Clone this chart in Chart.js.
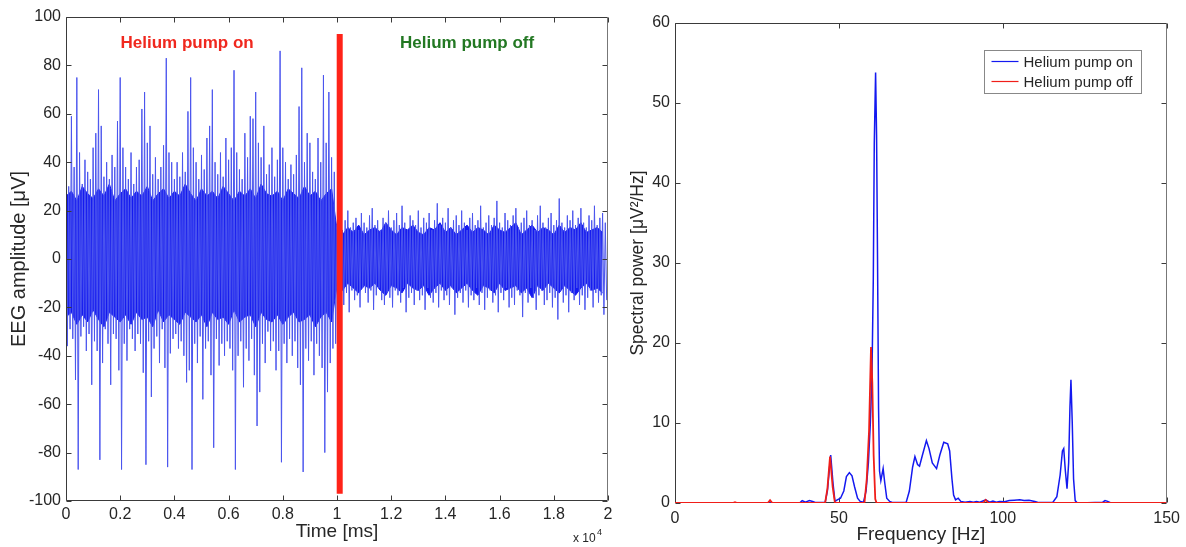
<!DOCTYPE html>
<html>
<head>
<meta charset="utf-8">
<script src="https://cdn.jsdelivr.net/npm/chart.js@4.4.0/dist/chart.umd.min.js"></script>
<style>
  html, body { margin: 0; padding: 0; background: #fff; }
  #left { position: absolute; left: 0; top: 0; width: 620px; height: 547px; }
  #right { position: absolute; left: 620px; top: 0; width: 566px; height: 547px; }
</style>
</head>
<body>
<div id="left"><canvas id="eegChart"></canvas></div>
<div id="right"><canvas id="psdChart"></canvas></div>
<script>
var binMs = 100;
var pumpOnHigh = [
  40, 30, 59, 38, 75, 44, 31, 41, 36, 33,
  46, 52, 70, 55, 34, 40, 33, 43, 38, 57,
  75, 46, 38, 33, 44, 31, 38, 41, 62, 69,
  48, 55, 35, 42, 33, 38, 47, 83, 44, 40,
  33, 40, 34, 44, 36, 61, 75, 46, 40, 33,
  43, 37, 50, 55, 70, 40, 35, 44, 34, 50,
  41, 46, 78, 44, 37, 33, 52, 42, 59, 58,
  69, 48, 42, 55, 35, 39, 46, 34, 41, 86,
  46, 40, 33, 39, 35, 43, 63, 79, 40, 52,
  48, 36, 33, 50, 40, 76, 48, 69, 42, 36
];
var pumpOnLow = [
  -36, -29, -33, -50, -87, -32, -28, -38, -31, -52,
  -34, -38, -83, -43, -29, -35, -52, -31, -33, -46,
  -87, -35, -42, -29, -33, -38, -31, -35, -47, -85,
  -34, -57, -37, -32, -43, -29, -45, -86, -39, -33,
  -31, -37, -34, -40, -51, -46, -87, -35, -43, -32,
  -58, -37, -34, -48, -78, -33, -44, -35, -40, -34,
  -37, -46, -87, -40, -34, -53, -37, -42, -33, -48,
  -69, -55, -35, -43, -30, -38, -34, -46, -38, -84,
  -35, -43, -33, -40, -34, -45, -52, -88, -37, -42,
  -34, -48, -35, -40, -45, -80, -55, -43, -37, -35
];
var pumpOffHigh = [
  14, 18, 12, 16, 20, 13, 15, 17, 12, 19,
  15, 13, 18, 21, 14, 16, 12, 17, 15, 20,
  13, 16, 19, 14, 22, 15, 12, 18, 16, 14,
  20, 13, 17, 15, 19, 12, 16, 23, 14, 17,
  15, 21, 13, 16, 18, 14, 20, 15, 12, 17,
  19, 14, 16, 22, 13, 15, 18, 14, 17, 24,
  15, 13, 19, 16, 14, 18, 21, 13, 15, 17,
  20, 14, 16, 12, 18, 22, 15, 13, 17, 19,
  14, 16, 25, 15, 13, 18, 16, 20, 14, 17,
  21, 15, 13, 18, 16, 22, 14, 17, 19, 15
];
var pumpOffLow = [
  -16, -12, -19, -14, -22, -13, -17, -15, -20, -12,
  -14, -18, -13, -21, -15, -12, -17, -19, -14, -16,
  -20, -13, -15, -18, -12, -22, -16, -14, -19, -13,
  -17, -15, -21, -12, -16, -18, -14, -20, -13, -17,
  -15, -19, -12, -23, -16, -14, -18, -13, -20, -15,
  -17, -12, -19, -14, -21, -16, -13, -18, -15, -22,
  -14, -17, -12, -20, -16, -19, -13, -15, -24, -14,
  -18, -12, -16, -21, -15, -13, -19, -17, -14, -20,
  -16, -25, -13, -18, -15, -22, -14, -17, -12, -19,
  -15, -21, -16, -13, -20, -14, -18, -15, -23, -17
];
var coreMs = 200;
var coreOnTop = [
  26, 28, 24, 30, 27, 25, 29, 26, 31, 24,
  27, 29, 25, 28, 26, 30, 24, 27, 29, 25,
  28, 26, 31, 27, 24, 29, 26, 28, 25, 30,
  27, 24, 28, 26, 29, 25, 31, 27, 26, 28,
  24, 29, 27, 25, 30, 26, 28, 24, 27, 29
];
var coreOnBottom = [
  -24, -22, -27, -23, -26, -21, -25, -28, -22, -24,
  -26, -23, -27, -22, -25, -24, -28, -21, -26, -23,
  -25, -27, -22, -24, -26, -23, -28, -22, -25, -24,
  -27, -21, -26, -24, -23, -28, -22, -25, -26, -23,
  -27, -24, -22, -26, -25, -23, -28, -24, -22, -26
];
var coreOffTop = [
  12, 10, 13, 11, 14, 10, 12, 13, 11, 15,
  12, 10, 13, 12, 14, 11, 10, 13, 12, 15,
  11, 13, 10, 12, 14, 11, 13, 12, 10, 14,
  12, 11, 13, 15, 10, 12, 14, 11, 13, 12,
  10, 14, 11, 13, 12, 15, 11, 12, 13, 11
];
var coreOffBottom = [
  -11, -13, -10, -12, -14, -11, -12, -10, -13, -15,
  -11, -12, -14, -10, -12, -13, -11, -15, -12, -10,
  -13, -11, -14, -12, -10, -13, -15, -11, -12, -14,
  -10, -13, -12, -11, -14, -12, -16, -11, -13, -10,
  -12, -14, -11, -13, -15, -12, -10, -13, -12, -14
];
var pumpOffStart = 10000;
var switchTime = 10100;
var switchSpan = [93, -97];
var phaseLabels = ["Helium pump on", "Helium pump off"];

// spectra
var seriesNames = ["Helium pump on", "Helium pump off"];
var onFreq = [0, 38, 38.8, 39.8, 41, 42, 43, 45.8, 46.5, 47.5,
  48.2, 48.8, 49.5, 50.5, 51.5, 52.3, 53.2, 54.0, 54.8, 55.7,
  56.5, 57.5, 58.3, 59.0, 59.6, 60.1, 60.5, 60.8, 61.2, 61.5,
  61.8, 62.1, 62.4, 62.8, 63.5, 64.0, 64.6, 65.5, 66.5, 70.5,
  71.5, 72.5, 73.2, 74.0, 74.6, 75.5, 76.7, 77.5, 78.5, 79.8,
  80.8, 82.0, 83.2, 83.8, 84.5, 85.0, 85.6, 86.4, 87.2, 88.5,
  90, 91, 92, 93, 94.8, 96, 97, 98, 99, 100.5,
  102, 103.5, 105.2, 106.5, 108, 109.8, 111, 115.3, 116.5, 117.5,
  118.2, 118.6, 119.1, 119.6, 120.1, 120.5, 120.8, 121.2, 121.6, 122.1,
  122.6, 123.5, 130.5, 131.2, 132, 133, 150];
var onPower = [0, 0, 0.3, 0.1, 0.3, 0.2, 0.05, 0.05, 1.5, 6.0,
  2.5, 0.2, 0.4, 0.6, 1.5, 3.3, 3.8, 3.4, 2.0, 0.6,
  0.2, 0.1, 1.5, 5, 10, 16, 28, 45, 53.8, 46,
  30, 12, 4, 2.8, 4.3, 2.5, 0.6, 0.2, 0.05, 0.05,
  1.5, 4.5, 5.8, 4.8, 4.6, 6.0, 7.8, 6.8, 5.0, 4.3,
  6.0, 7.6, 7.4, 6.5, 3.0, 1.0, 0.4, 0.6, 0.2, 0.1,
  0.2, 0.1, 0.2, 0.1, 0.4, 0.1, 0.25, 0.1, 0.2, 0.15,
  0.3, 0.35, 0.4, 0.3, 0.35, 0.2, 0.05, 0.1, 0.8, 3.5,
  6.5, 6.8, 4, 1.8, 5, 12, 15.4, 10, 3, 0.3,
  0.05, 0, 0.1, 0.3, 0.2, 0, 0];
var offFreq = [0, 17.6, 18.3, 19, 28.3, 29, 29.7, 45.8, 46.5, 47.3,
  48.1, 48.8, 57.8, 58.5, 59.2, 59.8, 60.2, 60.6, 61.1, 61.5,
  94, 94.8, 95.6, 150];
var offPower = [0, 0, 0.1, 0, 0, 0.35, 0, 0, 1.8, 5.8,
  2.0, 0, 0, 3, 9, 19.5, 15, 6, 0.5, 0,
  0, 0.4, 0, 0];

var FONT = "'Liberation Sans', Arial, sans-serif";
Chart.defaults.font.family = FONT;
Chart.defaults.color = "#262626";

var blue = "rgb(20,25,240)";
var red = "rgb(240,30,25)";

// matlab style frame with inward ticks
function framePlugin(onTop) {
  var draw = function (chart) {
    var ctx = chart.ctx, a = chart.chartArea;
    var x = chart.scales.x, y = chart.scales.y;
    var L = Math.round(a.left) + 0.5, R = Math.round(a.right) - 0.5;
    var T = Math.round(a.top) + 0.5, B = Math.round(a.bottom) - 0.5;
    ctx.save();
    ctx.lineWidth = 1;
    ctx.strokeStyle = "#3a3a3a";
    ctx.beginPath();
    x.ticks.forEach(function (t) {
      var px = Math.round(x.getPixelForValue(t.value)) + 0.5;
      ctx.moveTo(px, B); ctx.lineTo(px, B - 5);
      ctx.moveTo(px, T); ctx.lineTo(px, T + 5);
    });
    y.ticks.forEach(function (t) {
      var py = Math.round(y.getPixelForValue(t.value)) + 0.5;
      ctx.moveTo(L, py); ctx.lineTo(L + 5, py);
      ctx.moveTo(R, py); ctx.lineTo(R - 5, py);
    });
    ctx.stroke();
    ctx.beginPath();
    ctx.moveTo(R, T); ctx.lineTo(L, T); ctx.lineTo(L, B); ctx.lineTo(R, B);
    ctx.stroke();
    ctx.strokeStyle = "#777";
    ctx.beginPath();
    ctx.moveTo(R, T); ctx.lineTo(R, B);
    ctx.stroke();
    ctx.restore();
  };
  return onTop ? { id: "frame", afterDatasetsDraw: draw } : { id: "frame", beforeDatasetsDraw: draw };
}

// LEFT: EEG trace
var eegPoints = [];
pumpOnHigh.forEach(function (v, i) {
  eegPoints.push({ x: i * binMs, y: v }, { x: i * binMs + binMs / 2, y: pumpOnLow[i] });
});
pumpOffHigh.forEach(function (v, i) {
  var t = pumpOffStart + i * binMs;
  eegPoints.push({ x: t, y: v }, { x: t + binMs / 2, y: pumpOffLow[i] });
});
var coreTopPoints = [], coreBottomPoints = [];
coreOnTop.forEach(function (v, i) {
  coreTopPoints.push({ x: i * coreMs, y: v });
  coreBottomPoints.push({ x: i * coreMs, y: coreOnBottom[i] });
});
coreOffTop.forEach(function (v, i) {
  coreTopPoints.push({ x: pumpOffStart + i * coreMs, y: v });
  coreBottomPoints.push({ x: pumpOffStart + i * coreMs, y: coreOffBottom[i] });
});

var eegNotes = {
  id: "eegNotes",
  afterDraw: function (chart) {
    var ctx = chart.ctx, x = chart.scales.x, y = chart.scales.y, a = chart.chartArea;
    ctx.save();
    ctx.font = "bold 17px " + FONT;
    ctx.textAlign = "center";
    ctx.textBaseline = "middle";
    ctx.fillStyle = "rgb(240,40,30)";
    ctx.fillText(phaseLabels[0], x.getPixelForValue(4470), y.getPixelForValue(89));
    ctx.fillStyle = "rgb(35,120,35)";
    ctx.fillText(phaseLabels[1], x.getPixelForValue(14800), y.getPixelForValue(89));
    // axis multiplier
    ctx.fillStyle = "#262626";
    ctx.textAlign = "left";
    ctx.textBaseline = "alphabetic";
    ctx.font = "12px " + FONT;
    ctx.fillText("x 10", a.right - 35, 542);
    ctx.font = "9px " + FONT;
    ctx.fillText("4", a.right - 11, 535);
    ctx.restore();
  }
};

new Chart("eegChart", {
  type: "line",
  data: {
    datasets: [{
      label: "switch",
      data: [{ x: switchTime, y: switchSpan[0] }, { x: switchTime, y: switchSpan[1] }],
      borderColor: "rgb(255,35,25)",
      borderWidth: 6,
      borderCapStyle: "butt",
      pointRadius: 0,
      order: 0
    }, {
      label: "EEG",
      data: eegPoints,
      borderColor: "rgb(75,85,238)",
      borderWidth: 1,
      pointRadius: 0,
      tension: 0,
      order: 1
    }, {
      label: "core top",
      data: coreTopPoints,
      borderColor: blue,
      borderWidth: 1,
      backgroundColor: blue,
      fill: "+1",
      pointRadius: 0,
      tension: 0,
      order: 2
    }, {
      label: "core bottom",
      data: coreBottomPoints,
      borderColor: blue,
      borderWidth: 1,
      pointRadius: 0,
      tension: 0,
      order: 3
    }]
  },
  options: {
    responsive: true,
    maintainAspectRatio: false,
    animation: false,
    events: [],
    layout: { padding: { top: 17, right: 12, left: 0, bottom: 0 } },
    plugins: { legend: { display: false }, tooltip: { enabled: false }, filler: { propagate: false } },
    scales: {
      x: {
        type: "linear",
        min: 0,
        max: 20000,
        afterFit: function (s) { s.height = 46; },
        grid: { display: false, drawTicks: false },
        border: { display: false },
        ticks: {
          stepSize: 2000,
          padding: 4,
          maxRotation: 0,
          font: { size: 16 },
          callback: function (v) { return String(Math.round(v / 1000) / 10); }
        },
        title: { display: true, text: "Time [ms]", font: { size: 19 }, padding: { top: 0, bottom: 4 } }
      },
      y: {
        min: -100,
        max: 100,
        afterFit: function (s) { s.width = 66; },
        grid: { display: false, drawTicks: false },
        border: { display: false },
        ticks: { stepSize: 20, padding: 5, font: { size: 16 } },
        title: { display: true, text: "EEG amplitude [\u03bcV]", font: { size: 20 }, padding: { top: 7, bottom: 0 } }
      }
    }
  },
  plugins: [framePlugin(true), eegNotes]
});

// RIGHT: spectral power
var onPoints = onFreq.map(function (f, i) { return { x: f, y: onPower[i] }; });
var offPoints = offFreq.map(function (f, i) { return { x: f, y: offPower[i] }; });

var boxLegend = {
  id: "boxLegend",
  afterDraw: function (chart) {
    var ctx = chart.ctx, a = chart.chartArea;
    var w = 157, h = 43;
    var bx = Math.round(a.right) - 26 - w + 0.5, by = Math.round(a.top) + 27 + 0.5;
    ctx.save();
    ctx.fillStyle = "#fff";
    ctx.fillRect(bx, by, w, h);
    ctx.strokeStyle = "#888";
    ctx.lineWidth = 1;
    ctx.strokeRect(bx, by, w, h);
    ctx.font = "15px " + FONT;
    ctx.textBaseline = "middle";
    ctx.textAlign = "left";
    chart.data.datasets.forEach(function (ds, i) {
      var ry = by + 11 + i * 20;
      ctx.strokeStyle = ds.borderColor;
      ctx.lineWidth = 1.2;
      ctx.beginPath();
      ctx.moveTo(bx + 7, ry); ctx.lineTo(bx + 34, ry);
      ctx.stroke();
      ctx.fillStyle = "#262626";
      ctx.fillText(ds.label, bx + 39, ry + 1);
    });
    ctx.restore();
  }
};

new Chart("psdChart", {
  type: "line",
  data: {
    datasets: [{
      label: seriesNames[0],
      data: onPoints,
      borderColor: blue,
      borderWidth: 1.5,
      pointRadius: 0,
      tension: 0,
      order: 2
    }, {
      label: seriesNames[1],
      data: offPoints,
      borderColor: red,
      borderWidth: 1.8,
      pointRadius: 0,
      tension: 0,
      order: 1
    }]
  },
  options: {
    responsive: true,
    maintainAspectRatio: false,
    animation: false,
    events: [],
    layout: { padding: { top: 23, right: 19, left: 0, bottom: 0 } },
    plugins: { legend: { display: false }, tooltip: { enabled: false } },
    scales: {
      x: {
        type: "linear",
        min: 0,
        max: 150,
        afterFit: function (s) { s.height = 44; },
        grid: { display: false, drawTicks: false },
        border: { display: false },
        ticks: { stepSize: 50, padding: 6, maxRotation: 0, font: { size: 16 } },
        title: { display: true, text: "Frequency [Hz]", font: { size: 19 }, padding: { top: 0, bottom: 1 } }
      },
      y: {
        min: 0,
        max: 60,
        afterFit: function (s) { s.width = 55; },
        grid: { display: false, drawTicks: false },
        border: { display: false },
        ticks: { stepSize: 10, padding: 5, font: { size: 16 } },
        title: { display: true, text: "Spectral power [\u03bcV\u00b2/Hz]", font: { size: 17.5 }, padding: { top: 7.5, bottom: 0 } }
      }
    }
  },
  plugins: [framePlugin(false), boxLegend]
});
</script>
</body>
</html>
